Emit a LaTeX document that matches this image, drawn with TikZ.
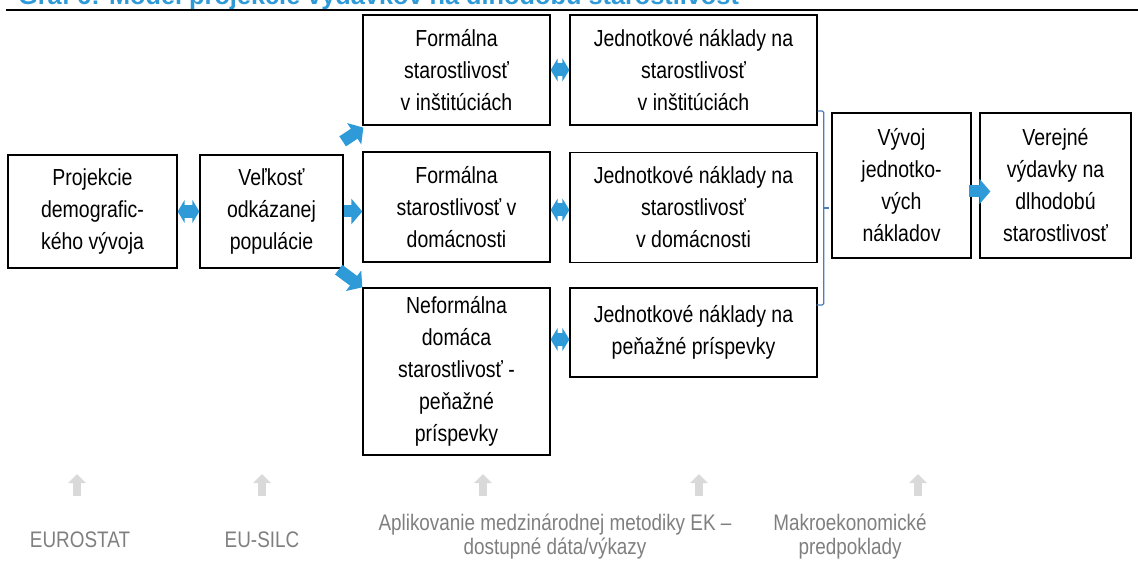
\documentclass[tikz,border=0pt]{standalone}
\usepackage{fontspec}
\setmainfont{Liberation Sans}[FakeStretch=0.84]
\newfontfamily\titlefont{Liberation Sans}
\usetikzlibrary{arrows.meta,calc}
\definecolor{arrblue}{HTML}{2E9AD8}
\definecolor{brblue}{HTML}{4A7EBB}
\definecolor{srcgray}{HTML}{7F7F7F}
\definecolor{arrgray}{HTML}{D9D9D9}
\definecolor{titleblue}{HTML}{2E9AD8}
\begin{document}
\begin{tikzpicture}[x=1pt,y=-1pt,
  box/.style={draw=black, line width=1.3pt, align=center, inner sep=0pt,
    font=\fontsize{23.2}{32}\selectfont},
  barrow/.style={arrblue, line width=12pt, -{Triangle[length=11pt,width=25pt]}},
  darrow/.style={arrblue, line width=13pt, {Triangle[length=7pt,width=23pt]}-{Triangle[length=7pt,width=23pt]}},
  garrow/.style={arrgray, line width=8pt, -{Triangle[length=9pt,width=17pt]}},
  src/.style={text=srcgray, align=center, inner sep=0pt, font=\fontsize{22.5}{24}\selectfont},
  bracket/.style={brblue, line width=1.2pt}]
\useasboundingbox (0,0) rectangle (1138,561);
\clip (0,0) rectangle (1138,561);

% title
\node[anchor=base west, text=titleblue, inner sep=0pt,
  font=\titlefont\bfseries\fontsize{25.3}{28}\selectfont] (title) at (18,5)
  {Graf 6: Model projekcie výdavkov na dlhodobú starostlivosť};
\coordinate (rl) at (6,10);
\coordinate (rr) at (1138,10);
\draw[line width=2pt] (rl) -- (rr);

% boxes
\node[box, minimum width=169pt, minimum height=113pt] (proj) at (92.5,211.5)
  {Projekcie\\demografic-\\kého vývoja};
\node[box, minimum width=143pt, minimum height=113pt] (vel) at (271.5,211.5)
  {Veľkosť\\odkázanej\\populácie};
\node[box, minimum width=187pt, minimum height=110pt] (finst) at (456.5,70)
  {Formálna\\starostlivosť\\v inštitúciách};
\node[box, minimum width=247pt, minimum height=110pt] (jinst) at (693.5,70)
  {Jednotkové náklady na\\starostlivosť\\v inštitúciách};
\node[box, minimum width=187pt, minimum height=110pt] (fdom) at (456.5,207)
  {Formálna\\starostlivosť v\\domácnosti};
\node[box, minimum width=247pt, minimum height=110pt] (jdom) at (693.5,207.5)
  {Jednotkové náklady na\\starostlivosť\\v domácnosti};
\node[box, minimum width=187pt, minimum height=167pt] (neform) at (456.5,371.5)
  {Neformálna\\domáca\\starostlivosť -\\peňažné\\príspevky};
\node[box, minimum width=247pt, minimum height=89pt] (jpen) at (693.5,332.5)
  {Jednotkové náklady na\\peňažné príspevky};
\node[box, minimum width=139pt, minimum height=145pt] (vyvoj) at (901.5,185.5)
  {Vývoj\\jednotko-\\vých\\nákladov};
\node[box, minimum width=151pt, minimum height=145pt] (verej) at (1055.5,185.5)
  {Verejné\\výdavky na\\dlhodobú\\starostlivosť};

% blue arrows
\draw[darrow] (proj.east) -- (vel.west);
\draw[barrow] (vel.east) -- (vel.east -| fdom.west);
\draw[barrow] ($(vel.north east)+(-1,-13)$) -- ($(finst.south west)+(1,2)$);
\draw[barrow] ($(vel.south east)+(-5,1)$) -- ($(neform.north west)+(0,0)$);
\draw[darrow] (finst.east) -- (finst.east -| jinst.west);
\draw[darrow] ($(fdom.east)+(0,3)$) -- ($(fdom.east -| jdom.west)+(0,3)$);
\draw[darrow] ($(jpen.west -| neform.east)+(0,7)$) -- ($(jpen.west)+(0,7)$);
\draw[barrow] ($(vyvoj.east)+(-3,6)$) -- ($(verej.west)+(11,6)$);

% bracket
\coordinate (bt) at ($(jinst.east)+(0,41)$);
\coordinate (bb) at ($(jpen.east)+(-1,-27.5)$);
\coordinate (bm) at ($(vyvoj.west)+(-2,22.5)$);
\draw[bracket, rounded corners=1.5pt] (bt) -- ++(6,0) |- (bb);
\draw[bracket] (bm -| 823,0) -- (bm);

% sources
\node[src] (eurostat) at (80,540) {EUROSTAT};
\node[src] (eusilc) at (262,540) {EU-SILC};
\node[src] (ek) at (555,537) {Aplikovanie medzinárodnej metodiky EK –\\dostupné dáta/výkazy};
\node[src] (makro) at (850,537) {Makroekonomické\\predpoklady};

% gray arrows
\coordinate (g1a) at (77,496); \coordinate (g1b) at (77,474);
\coordinate (g2a) at (262,496); \coordinate (g2b) at (262,474);
\coordinate (g3a) at (483,496); \coordinate (g3b) at (483,474);
\coordinate (g4a) at (699,496); \coordinate (g4b) at (699,474);
\coordinate (g5a) at (918,496); \coordinate (g5b) at (918,474);
\draw[garrow] (g1a) -- (g1b);
\draw[garrow] (g2a) -- (g2b);
\draw[garrow] (g3a) -- (g3b);
\draw[garrow] (g4a) -- (g4b);
\draw[garrow] (g5a) -- (g5b);
\end{tikzpicture}
\end{document}
